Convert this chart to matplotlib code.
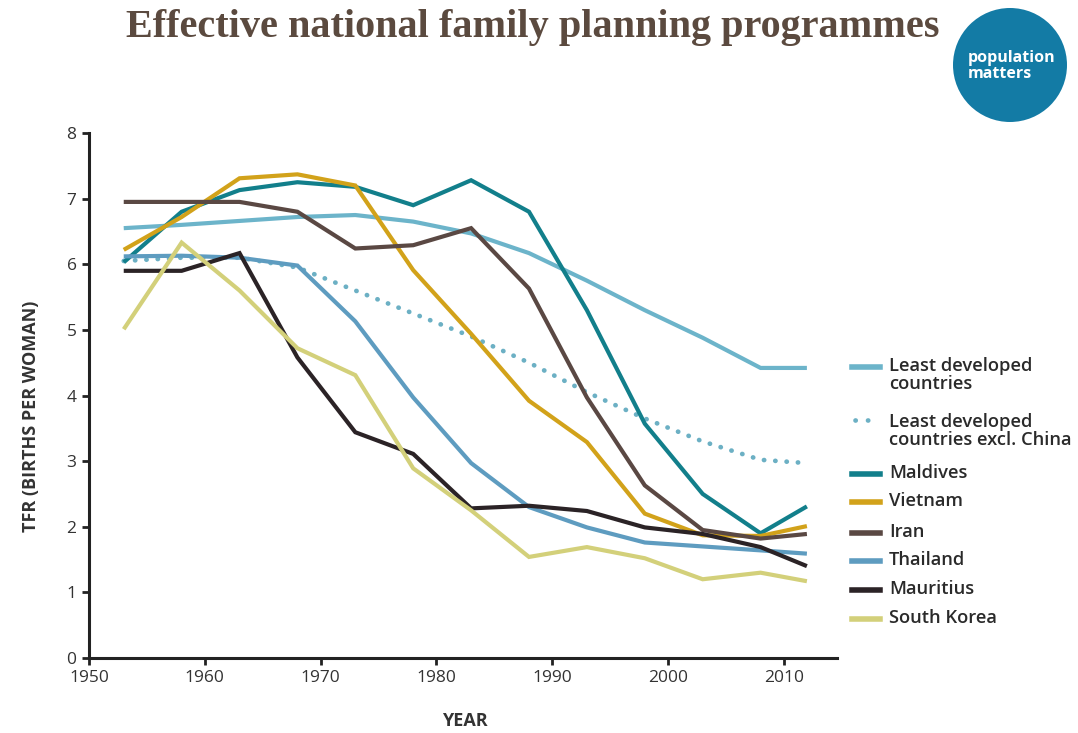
import matplotlib
matplotlib.use("Agg")
import matplotlib.pyplot as plt
from matplotlib.patches import Ellipse
from matplotlib.lines import Line2D

# ---------------- data ----------------
years = [1953, 1958, 1963, 1968, 1973, 1978, 1983, 1988, 1993, 1998, 2003, 2008, 2012]

ldc = [6.55, 6.60, 6.66, 6.72, 6.75, 6.65, 6.47, 6.17, 5.75, 5.30, 4.88, 4.42, 4.42]
ldc_ex_china = [6.05, 6.10, 6.10, 5.95, 5.60, 5.25, 4.90, 4.50, 4.05, 3.65, 3.30, 3.02, 2.97]
maldives = [6.03, 6.80, 7.13, 7.25, 7.18, 6.90, 7.28, 6.80, 5.30, 3.57, 2.50, 1.90, 2.31]
vietnam = [6.22, 6.72, 7.31, 7.37, 7.20, 5.91, 4.94, 3.92, 3.29, 2.20, 1.87, 1.86, 2.01]
iran = [6.95, 6.95, 6.95, 6.80, 6.24, 6.29, 6.55, 5.63, 3.97, 2.63, 1.95, 1.82, 1.89]
thailand = [6.12, 6.13, 6.10, 5.98, 5.13, 3.97, 2.97, 2.30, 1.99, 1.76, 1.70, 1.64, 1.59]
mauritius = [5.90, 5.90, 6.17, 4.58, 3.44, 3.11, 2.28, 2.32, 2.24, 1.99, 1.89, 1.69, 1.40]
south_korea = [5.01, 6.33, 5.60, 4.72, 4.31, 2.89, 2.25, 1.54, 1.69, 1.52, 1.20, 1.30, 1.17]

labels = ["Least developed\ncountries", "Least developed\ncountries excl. China",
          "Maldives", "Vietnam", "Iran", "Thailand", "Mauritius", "South Korea"]
x_ticks = [1950, 1960, 1970, 1980, 1990, 2000, 2010]
y_ticks = [0, 1, 2, 3, 4, 5, 6, 7, 8]

title = "Effective national family planning programmes"
xlabel = "YEAR"
ylabel = "TFR (BIRTHS PER WOMAN)"
logo_text = "population\nmatters"

# ---------------- style ----------------
colors = ["#6cb4ca", "#6cb0c4", "#127f8b", "#d2a21a", "#5a4843", "#5e9cc0", "#2b2326", "#d3d07a"]
series = [ldc, ldc_ex_china, maldives, vietnam, iran, thailand, mauritius, south_korea]
dotted = (0, (0.05, 2.35))

plt.rcParams['font.family'] = ['Open Sans', 'DejaVu Sans']
text_col = "#333333"

fig = plt.figure(figsize=(10.78, 7.33), dpi=100)
W, H = 1078, 733


def fx(px):
    return px / W


def fy(py):
    return 1 - py / H


ax = fig.add_axes([fx(89), fy(658), (837 - 89) / W, (658 - 133) / H])

for i, (vals, col, lab) in enumerate(zip(series, colors, labels)):
    if i == 1:
        ax.plot(years, vals, color=col, lw=3.4, linestyle=dotted,
                dash_capstyle='round', label=lab, zorder=2)
    else:
        ax.plot(years, vals, color=col, lw=3.0, solid_joinstyle='miter',
                solid_capstyle='butt', label=lab, zorder=3)

ax.set_xlim(1950, 2014.6)
ax.set_ylim(0, 8)
ax.set_xticks(x_ticks)
ax.set_yticks(y_ticks)
for s in ["top", "right"]:
    ax.spines[s].set_visible(False)
for s in ["left", "bottom"]:
    ax.spines[s].set_linewidth(2.2)
    ax.spines[s].set_color("#222222")
ax.tick_params(axis='both', direction='out', length=5, width=2.0, color="#222222",
               labelsize=12.5, labelcolor=text_col, pad=4)

# axis labels
fig.text(fx(465), fy(721), xlabel, fontsize=13, fontweight='bold', color=text_col,
         ha='center', va='center')
fig.text(fx(31), fy(416), ylabel, fontsize=13, fontweight='bold', color=text_col,
         ha='center', va='center', rotation=90)

# legend (manual layout)
leg_rows = [366, 422, 473, 501, 532, 560, 589, 618]
for i, (col, lab, ry) in enumerate(zip(colors, labels, leg_rows)):
    if i == 1:
        fig.add_artist(Line2D([fx(855), fx(878)], [fy(ry - 2), fy(ry - 2)], color=col, lw=3.4,
                              linestyle=(0, (0.05, 2.6)), dash_capstyle='round'))
    else:
        fig.add_artist(Line2D([fx(852), fx(880)], [fy(ry + 1), fy(ry + 1)], color=col, lw=4.0))
    for j, line in enumerate(lab.split("\n")):
        fig.text(fx(889), fy(ry + 18 * j), line, fontsize=13.2, fontweight='semibold',
                 color="#2a2a2a", ha='left', va='center')

# title
fig.text(fx(533), fy(27), title, family=['Liberation Serif', 'DejaVu Serif'],
         fontweight='bold', fontsize=29, color="#5b4a3f", ha='center', va='center')

# logo
ell = Ellipse((fx(1010), fy(65)), 2 * 57 / W, 2 * 57 / H, transform=fig.transFigure,
              facecolor="#137ba5", edgecolor='none')
fig.patches.append(ell)
fig.text(fx(968), fy(66), logo_text, color='white', fontsize=11.5, fontweight='bold',
         ha='left', va='center', linespacing=1.0)

fig.savefig("out.png", dpi=100, facecolor='white')
